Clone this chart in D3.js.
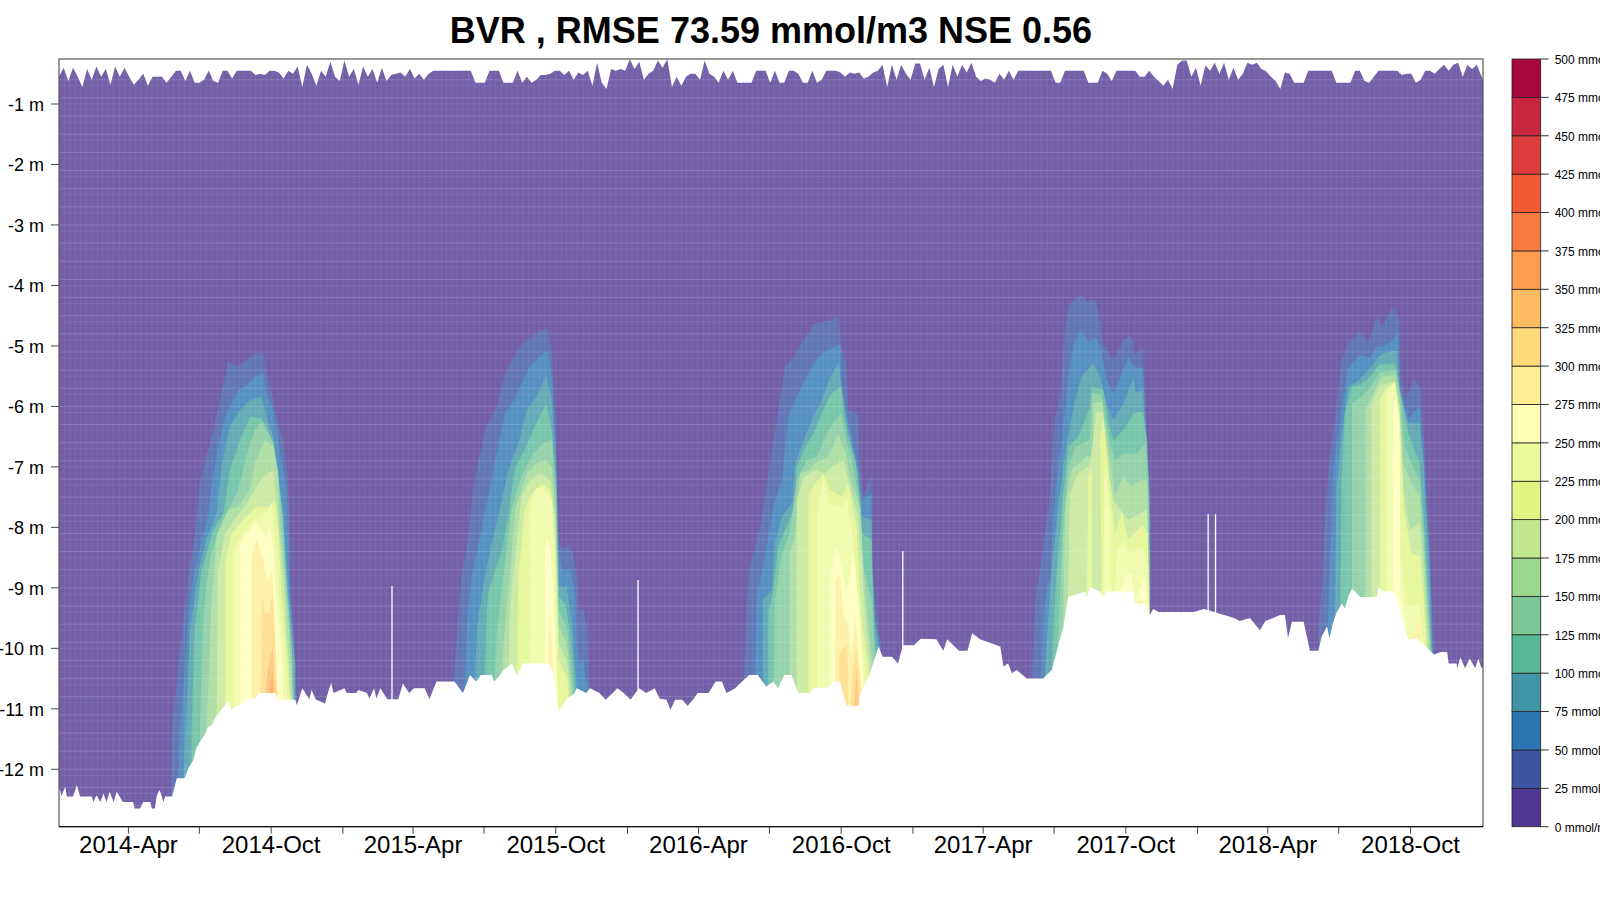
<!DOCTYPE html>
<html><head><meta charset="utf-8">
<script src="https://cdn.jsdelivr.net/npm/d3@7/dist/d3.min.js"></script>
<style>html,body{margin:0;padding:0;background:#fff;overflow:hidden}svg{display:block}text{font-family:"Liberation Sans",Arial,sans-serif}</style>
</head><body><svg id="c" width="1600" height="900"></svg>
<script>
const titleText = "BVR , RMSE 73.59 mmol/m3 NSE 0.56";
const legendLevels = d3.range(0, 525, 25);
const bandColors = ["#4F3791","#3B55A3","#2B75B2","#3F95A3","#56B897","#7BC896","#9DD891","#C0E68E","#E2F583","#EDFA9C","#FEFFB4","#FFEE94","#FFDA7B","#FEBB61","#FE9D4F","#F87A41","#F15A32","#DD3D3C","#C9273F","#A8083E"];
const depthTicks = [1,2,3,4,5,6,7,8,9,10,11,12];
const surfaceStepDays = 6;
const surfaceDepth = [.55,.40,.62,.40,.55,.72,.42,.60,.38,.55,.42,.68,.38,.55,.40,.55,.68,.60,.50,.70,.55,.55,.55,.65,.55,.45,.45,.62,.45,.65,.65,.60,.45,.62,.65,.45,.45,.58,.45,.45,.45,.45,.52,.50,.52,.45,.45,.48,.58,.45,.50,.38,.72,.35,.50,.70,.45,.55,.30,.55,.62,.28,.55,.42,.68,.38,.55,.42,.65,.40,.62,.52,.50,.48,.55,.42,.58,.50,.60,.50,.45,.45,.45,.45,.45,.45,.45,.45,.45,.65,.65,.65,.45,.45,.45,
.65,.65,.65,.45,.65,.55,.65,.60,.52,.52,.50,.45,.45,.52,.45,.60,.48,.52,.45,.70,.32,.65,.75,.42,.45,.42,.45,.26,.42,.30,.60,.50,.45,.28,.40,.26,.72,.55,.70,.55,.50,.50,.60,.28,.50,.55,.65,.45,.60,.45,.65,.65,.65,.65,.45,.45,.45,.65,.45,.65,.65,.45,.45,.50,.65,.65,.45,.65,.60,.45,.45,.45,.48,.55,.48,.50,.48,.58,.55,.48,.45,.35,.72,.35,.60,.35,.50,.60,.33,.33,.60,.40,.72,.42,.35,.72,.35,.55,.35,.48,.32,.55,.62,.58,.60,
.65,.50,.60,.45,.60,.45,.45,.45,.45,.45,.45,.45,.45,.65,.65,.45,.45,.45,.45,.45,.65,.65,.65,.45,.50,.62,.45,.45,.45,.45,.45,.55,.55,.45,.55,.62,.70,.60,.75,.35,.28,.28,.55,.40,.70,.36,.45,.32,.50,.32,.60,.40,.60,.50,.32,.35,.32,.42,.46,.55,.62,.75,.48,.50,.65,.65,.65,.45,.45,.45,.45,.45,.45,.65,.65,.65,.65,.45,.45,.62,.65,.55,.45,.45,.45,.45,.45,.52,.50,.50,.65,.60,.45,.45,.50,.42,.35,.45,.35,.32,.55,.35,.42,.35,.60];
const bottomProfile = [[0,12.35],[1,12.31],[3,12.45],[8,12.29],[10,12.45],[18,12.45],[23,12.26],[27,12.45],[42,12.45],[44,12.54],[48,12.43],[53,12.54],[57,12.40],[61,12.54],[65,12.37],[70,12.54],[74,12.37],[82,12.54],[95,12.54],[97,12.65],[104,12.65],[108,12.54],[117,12.54],[119,12.65],[123,12.65],[125,12.45],[129,12.34],[134,12.54],[136,12.45],[145,12.45],[151,12.15],[161,12.15],[166,11.98],[172,11.85],[176,11.65],[181,11.54],[187,11.43],[191,11.30],[196,11.27],[200,11.16],[206,11.05],[213,10.94],[217,10.85],[221,11.02],[226,10.96],[234,10.94],[238,10.85],[253,10.83],[256,10.74],[277,10.74],[281,10.85],[303,10.85],[305,10.94],[312,10.66],[321,10.84],[324,10.69],[329,10.84],[341,10.91],[344,10.77],[349,10.57],[352,10.74],[366,10.66],[369,10.74],[381,10.74],[384,10.69],[395,10.74],[398,10.83],[404,10.66],[407,10.83],[412,10.66],[421,10.84],[435,10.84],[441,10.58],[449,10.74],[455,10.66],[469,10.66],[475,10.84],[484,10.55],[507,10.55],[518,10.74],[524,10.55],[527,10.44],[535,10.55],[541,10.44],[555,10.44],[558,10.55],[564,10.47],[570,10.36],[581,10.25],[587,10.44],[595,10.25],[627,10.25],[633,10.36],[641,11.05],[650,10.85],[661,10.74],[664,10.66],[676,10.74],[681,10.66],[693,10.74],[701,10.85],[710,10.74],[716,10.66],[724,10.74],[733,10.85],[739,10.74],[744,10.66],[753,10.74],[764,10.66],[770,10.83],[779,10.85],[784,11.02],[790,10.85],[799,10.85],[806,10.95],[813,10.85],[819,10.74],[833,10.74],[842,10.55],[850,10.55],[856,10.74],[867,10.66],[876,10.55],[885,10.44],[896,10.44],[902,10.55],[907,10.63],[916,10.55],[922,10.66],[930,10.44],[939,10.44],[948,10.74],[962,10.74],[968,10.65],[985,10.65],[993,10.55],[1002,10.55],[1005,10.74],[1010,10.95],[1025,10.95],[1028,10.74],[1039,10.44],[1051,9.97],[1056,10.14],[1068,10.14],[1076,10.25],[1082,9.95],[1096,9.95],[1105,9.84],[1125,9.85],[1134,10.04],[1139,9.85],[1154,10.04],[1165,10.04],[1171,9.75],[1181,9.85],[1207,9.97],[1211,10.3],[1217,10.25],[1222,10.41],[1228,10.36],[1241,10.5],[1262,10.5],[1273,10.36],[1281,9.97],[1288,9.64],[1294,9.15],[1316,9.06],[1319,9.15],[1322,8.98],[1335,9.06],[1339,9.15],[1343,9.06],[1378,9.06],[1380,9.26],[1392,9.26],[1399,9.45],[1403,9.35],[1410,9.4],[1429,9.4],[1455,9.4],[1468,9.35],[1481,9.4],[1494,9.45],[1507,9.5],[1514,9.55],[1527,9.5],[1540,9.7],[1547,9.55],[1566,9.45],[1572,9.45],[1576,9.83],[1581,9.56],[1596,9.56],[1604,10.04],[1615,10.04],[1619,9.81],[1626,9.64],[1629,9.83],[1634,9.56],[1638,9.42],[1645,9.26],[1649,9.34],[1653,9.15],[1658,9.01],[1662,9.06],[1668,9.15],[1690,9.15],[1692,8.98],[1698,9.06],[1711,9.06],[1717,9.23],[1722,9.5],[1730,9.86],[1741,9.83],[1743,9.85],[1763,10.1],[1772,10.06],[1780,10.06],[1782,10.25],[1792,10.25],[1793,10.33],[1797,10.15],[1803,10.33],[1809,10.17],[1816,10.33],[1820,10.17],[1824,10.33],[1826,10.3]];
const gapDays = [427,742.5,1082,1473.6,1483];
const gapTopDepth = [8.97,8.87,8.39,7.78,7.78];

const bloom2014 = [
[25,[[143,12.6],[145,11.35],[153,10.25],[159,9.59],[167,8.70],[174,8.15],[181,7.22],[187,6.94],[198,6.39],[209,5.73],[217,5.26],[228,5.34],[241,5.23],[253,5.12],[262,5.12],[266,5.45],[273,5.78],[279,6.17],[288,6.61],[293,7.11],[296,8.04],[298,9.15],[303,10.25],[305,10.85]]],
[50,[[153,12.3],[155,11.35],[162,10.25],[166,9.42],[172,8.82],[181,8.32],[191,7.82],[198,7.11],[204,6.67],[213,6.17],[219,6.0],[230,5.73],[241,5.65],[251,5.51],[262,5.45],[266,5.78],[273,6.0],[279,6.39],[286,6.94],[292,7.38],[294,8.6],[300,9.7],[303,10.85]]],
[75,[[160,12.1],[162,11.35],[168,9.7],[179,8.7],[189,8.21],[202,7.77],[209,6.94],[219,6.33],[232,6.06],[245,5.89],[260,5.84],[266,6.17],[275,6.5],[281,7.05],[288,7.82],[294,9.04],[303,10.25],[303,10.85]]],
[100,[[170,11.35],[174,9.7],[183,8.7],[198,8.04],[211,7.77],[219,7.05],[232,6.56],[245,6.17],[260,6.2],[266,6.33],[275,6.61],[281,7.16],[287,7.82],[293,9.04],[300,10.25],[301,10.85]]],
[125,[[181,11.35],[185,9.42],[194,8.48],[206,7.99],[219,7.66],[230,7.38],[241,6.78],[251,6.39],[260,6.25],[266,6.39],[275,6.61],[281,7.16],[285,7.71],[291,8.87],[298,9.97],[300,10.85]]],
[150,[[189,11.35],[196,9.15],[202,8.15],[217,7.71],[230,7.66],[245,7.38],[251,6.94],[264,6.56],[275,6.67],[281,7.11],[283,7.88],[290,8.87],[296,9.97],[300,10.85]]],
[175,[[202,11.35],[204,8.7],[213,8.1],[228,7.82],[241,7.6],[251,7.38],[262,7.16],[275,7.05],[281,7.88],[288,8.93],[294,10.14],[298,10.85]]],
[200,[[213,11.35],[213,8.6],[221,8.1],[236,7.88],[253,7.66],[271,7.66],[277,7.55],[281,8.04],[285,9.04],[292,10.03],[296,10.85]]],
[225,[[224,11.35],[224,8.37],[236,8.1],[249,7.88],[262,7.82],[273,7.6],[277,8.15],[281,8.93],[288,9.97],[293,10.85]]],
[250,[[232,11.35],[232,8.26],[245,8.04],[253,7.9],[264,8.15],[271,7.99],[274,8.26],[278,9.09],[284,9.81],[288,10.85]]],
[275,[[247,11.35],[247,8.48],[253,8.18],[262,8.54],[267,8.9],[273,8.7],[276,9.42],[281,10.85]]],
[300,[[258,11.35],[260,9.09],[264,9.42],[270,9.42],[274,9.04],[277,9.86],[280,10.85]]],
[325,[[263,11.35],[266,10.52],[274,9.97],[278,10.85]]],
[350,[[269,11.35],[271,10.58],[274,10.41],[276,11.35]]]];

const bloom2015 = [
[25,[[506,10.58],[512,9.37],[516,8.81],[525,8.15],[531,7.33],[540,6.78],[548,6.33],[557,6.11],[563,5.95],[572,5.45],[583,5.18],[593,4.98],[604,4.87],[617,4.74],[627,4.71],[632,5.07],[636,6.06],[640,8.26],[647,8.35],[653,8.29],[659,8.4],[664,8.81],[666,9.37],[672,9.34],[677,9.64],[680,10.63]]],
[50,[[520,10.58],[523,9.64],[529,8.81],[540,8.15],[550,7.49],[561,6.78],[572,6.11],[585,5.87],[593,5.62],[604,5.34],[619,5.15],[627,5.09],[632,5.51],[637,6.61],[641,8.43],[645,8.7],[655,8.7],[662,9.09],[664,9.92],[666,10.25],[672,10.19],[679,10.74]]],
[75,[[533,10.58],[536,9.64],[546,8.81],[555,8.26],[565,7.71],[576,7.05],[589,6.61],[600,6.06],[612,5.84],[625,5.48],[632,5.9],[638,7.16],[641,8.98],[651,8.98],[657,9.48],[664,10.63]]],
[100,[[546,10.58],[548,9.64],[550,9.09],[568,8.37],[576,7.82],[585,7.0],[597,6.72],[610,6.33],[625,5.95],[632,6.39],[638,7.44],[641,9.15],[649,9.26],[655,9.7],[662,10.63]]],
[125,[[559,10.58],[561,9.8],[570,8.81],[580,7.71],[593,7.16],[608,6.78],[621,6.61],[632,6.55],[637,7.49],[641,9.37],[651,9.64],[659,10.63]]],
[150,[[568,10.58],[570,9.92],[578,8.81],[585,7.71],[600,7.11],[612,6.94],[623,6.89],[632,7.0],[637,7.82],[641,9.64],[651,9.92],[657,10.63]]],
[175,[[576,10.58],[578,9.37],[587,8.26],[593,7.49],[604,7.22],[617,7.11],[630,7.22],[636,7.82],[641,9.92],[651,10.19],[655,10.63]]],
[200,[[587,10.58],[589,8.81],[597,7.71],[606,7.44],[619,7.27],[630,7.38],[635,7.82],[641,10.19],[651,10.47],[653,10.63]]],
[225,[[604,10.58],[604,7.71],[610,7.38],[621,7.33],[632,7.55],[635,8.26],[640,11.02]]],
[250,[[623,10.58],[623,8.37],[626,8.13],[630,8.37],[634,9.09],[640,11.02]]],
[275,[[626,10.58],[629,9.37],[632,9.92],[635,10.91]]]];

const bloom2016 = [
[25,[[878,10.47],[882,9.2],[886,8.65],[897,8.1],[903,7.71],[914,6.72],[925,5.89],[931,5.34],[944,5.15],[954,4.9],[963,4.76],[969,4.63],[987,4.57],[999,4.52],[1003,4.96],[1006,5.2],[1010,5.23],[1012,6.06],[1025,6.14],[1026,6.72],[1031,7.49],[1042,7.11],[1043,8.65],[1049,9.48],[1054,9.97]]],
[50,[[892,10.47],[895,9.09],[903,8.65],[916,7.66],[927,7.22],[935,6.17],[948,5.78],[961,5.45],[974,5.18],[989,5.04],[1002,4.98],[1004,5.73],[1010,6.11],[1016,6.45],[1025,7.0],[1029,7.55],[1042,7.44],[1042,7.99],[1042,8.65],[1046,9.48],[1053,9.97]]],
[75,[[903,10.47],[903,9.2],[914,9.04],[918,8.27],[927,7.82],[940,7.6],[944,6.94],[955,6.56],[965,6.23],[978,5.9],[989,5.51],[1000,5.29],[1004,5.73],[1010,6.23],[1016,6.61],[1025,7.11],[1029,7.82],[1042,7.88],[1043,8.65],[1046,9.48],[1051,10.08]]],
[100,[[910,10.47],[910,9.37],[916,9.04],[922,8.32],[933,7.99],[944,7.66],[946,7.0],[957,6.67],[967,6.45],[982,6.0],[991,5.78],[1003,5.67],[1006,6.11],[1012,6.5],[1021,6.89],[1027,7.49],[1030,8.1],[1042,8.21],[1043,8.93],[1046,9.75],[1049,10.19]]],
[125,[[917,10.63],[918,9.2],[927,8.43],[937,8.1],[946,7.22],[959,6.89],[972,6.83],[984,6.45],[995,6.23],[1003,6.11],[1010,6.61],[1016,6.83],[1027,7.66],[1031,8.65],[1042,9.2],[1046,10.25]]],
[150,[[937,10.63],[937,8.43],[944,8.15],[950,7.11],[963,7.05],[969,6.94],[987,6.83],[999,6.45],[1010,6.83],[1014,7.16],[1027,7.66],[1034,9.09],[1043,10.25]]],
[175,[[946,10.74],[946,7.55],[955,7.16],[969,7.05],[982,7.11],[991,7.0],[1006,6.89],[1012,7.22],[1025,7.82],[1034,9.48],[1040,10.3]]],
[200,[[961,10.74],[961,7.44],[972,7.24],[980,7.11],[989,7.38],[1004,7.49],[1012,7.27],[1023,8.04],[1029,9.48],[1038,10.41]]],
[225,[[972,10.74],[972,7.77],[980,7.16],[987,7.6],[1004,7.66],[1010,7.49],[1017,8.1],[1025,9.2],[1034,10.47]]],
[250,[[989,10.74],[989,8.76],[997,8.32],[1004,8.65],[1010,9.09],[1019,8.43],[1025,9.2],[1031,10.47]]],
[275,[[995,10.74],[996,8.87],[1001,8.76],[1006,9.48],[1012,9.59],[1019,10.47]]],
[275,[[1012,10.85],[1021,9.5],[1031,10.85]]],
[300,[[1000,10.47],[1001,10.08],[1010,9.92],[1012,10.47]]],
[300,[[1015,10.85],[1022,9.95],[1029,10.85]]],
[325,[[1019,11.0],[1023,10.3],[1026,11.0]]]];

const bloom2017 = [
[25,[[1247,10.52],[1251,9.31],[1260,8.48],[1269,7.66],[1277,6.22],[1284,5.78],[1290,4.68],[1296,4.3],[1311,4.16],[1318,4.27],[1328,4.24],[1333,4.46],[1339,5.0],[1343,5.04],[1352,5.23],[1363,4.96],[1371,4.84],[1376,4.87],[1380,5.15],[1390,5.04],[1393,6.11],[1397,7.22],[1399,9.42]]],
[50,[[1260,10.52],[1262,9.42],[1271,8.76],[1277,7.49],[1286,6.5],[1294,5.56],[1301,4.96],[1311,4.74],[1320,4.93],[1331,4.87],[1337,5.1],[1343,5.56],[1352,5.78],[1363,5.45],[1371,5.18],[1378,5.34],[1390,5.37],[1393,6.11],[1398,7.22],[1399,9.42]]],
[75,[[1264,10.52],[1271,8.98],[1281,7.66],[1290,6.78],[1301,6.0],[1311,5.51],[1326,5.29],[1335,5.51],[1343,5.95],[1352,6.22],[1365,5.95],[1378,5.51],[1380,5.78],[1390,5.73],[1393,6.44],[1398,7.33],[1399,9.42]]],
[100,[[1273,10.47],[1277,9.2],[1286,7.66],[1294,6.67],[1307,6.5],[1322,6.0],[1324,5.67],[1339,5.73],[1346,6.28],[1352,6.55],[1365,6.39],[1378,6.11],[1390,6.09],[1395,6.55],[1398,7.44],[1399,9.42]]],
[125,[[1281,9.97],[1286,8.32],[1294,7.0],[1303,6.67],[1322,6.55],[1325,5.78],[1337,5.81],[1346,6.5],[1354,6.89],[1365,6.78],[1382,6.78],[1393,6.61],[1397,7.49],[1399,9.42]]],
[150,[[1288,9.42],[1290,7.66],[1298,7.05],[1318,6.83],[1326,6.83],[1326,5.95],[1337,5.92],[1346,6.72],[1354,7.44],[1365,7.16],[1375,7.33],[1386,7.22],[1395,7.22],[1398,9.42]]],
[175,[[1294,9.15],[1296,7.44],[1307,7.1],[1322,6.97],[1330,6.1],[1339,6.1],[1346,7.1],[1352,7.55],[1363,7.74],[1371,7.88],[1395,7.71],[1398,9.42]]],
[200,[[1318,9.15],[1320,7.16],[1324,7.02],[1325,9.15]]],
[200,[[1337,9.15],[1335,6.55],[1339,6.2],[1343,6.67],[1350,7.66],[1354,8.1],[1363,7.74],[1371,8.2],[1390,7.96],[1396,8.1],[1398,9.42]]],
[225,[[1339,9.15],[1341,6.94],[1348,7.77],[1350,9.15]]],
[225,[[1354,9.15],[1356,8.43],[1365,8.2],[1373,8.43],[1390,8.32],[1396,8.65],[1397,9.42]]],
[250,[[1360,9.15],[1367,8.81],[1375,8.76],[1380,9.26]]],
[250,[[1382,9.15],[1393,8.81],[1397,9.42]]],
[275,[[1380,9.26],[1386,9.2],[1393,9.26],[1395,9.42]]]];

const bloom2018 = [
[25,[[1615,9.81],[1619,8.93],[1623,8.04],[1628,6.99],[1634,6.44],[1638,5.95],[1645,5.23],[1653,4.96],[1668,4.76],[1679,4.93],[1690,4.52],[1696,4.68],[1711,4.35],[1719,4.57],[1720,5.56],[1727,5.87],[1737,5.56],[1746,5.69],[1752,6.87],[1758,8.39],[1763,10.1]]],
[50,[[1626,9.83],[1632,7.93],[1634,6.94],[1640,6.5],[1653,5.37],[1668,5.15],[1681,5.2],[1690,5.01],[1698,5.01],[1711,4.9],[1717,4.76],[1720,5.73],[1730,6.2],[1745,6.0],[1750,6.9],[1757,8.4],[1762,10.1]]],
[75,[[1636,9.37],[1638,7.38],[1643,6.67],[1653,5.67],[1668,5.56],[1679,5.4],[1692,5.18],[1698,5.12],[1715,5.07],[1720,5.78],[1730,6.28],[1745,6.28],[1750,7.0],[1756,8.4],[1761,10.1]]],
[100,[[1643,9.31],[1645,7.16],[1649,6.11],[1658,5.67],[1668,5.65],[1679,5.54],[1692,5.32],[1713,5.29],[1720,5.78],[1730,6.44],[1745,6.94],[1753,8.4],[1760,10.1]]],
[125,[[1658,9.03],[1658,5.95],[1670,5.84],[1679,5.73],[1694,5.43],[1715,5.4],[1720,5.89],[1726,6.67],[1734,6.94],[1745,7.22],[1752,8.5],[1759,10.1]]],
[150,[[1675,9.15],[1675,6.06],[1683,5.84],[1696,5.51],[1713,5.48],[1719,5.95],[1724,6.94],[1734,7.27],[1745,7.49],[1751,8.6],[1758,10.1]]],
[175,[[1683,9.15],[1683,5.95],[1694,5.65],[1713,5.59],[1719,6.0],[1724,7.33],[1732,8.04],[1745,7.93],[1750,8.8],[1756,10.1]]],
[200,[[1694,9.03],[1694,5.89],[1702,5.7],[1713,5.59],[1719,6.11],[1724,7.66],[1734,8.43],[1745,8.48],[1750,9.2],[1754,10.1]]],
[225,[[1702,9.06],[1702,5.73],[1713,5.62],[1719,6.28],[1720,8.48],[1728,9.31],[1745,9.26],[1750,10.1]]],
[250,[[1711,9.06],[1711,5.95],[1715,5.81],[1719,6.39],[1720,9.03],[1730,9.86],[1745,10.1]]],
[275,[[1734,9.86],[1745,9.48],[1747,10.1]]]];

const blooms = [bloom2014, bloom2015, bloom2016, bloom2017, bloom2018];

// ---- drawing ----
const svg = d3.select("#c");
const L=59,R=1483,T=59,B=826.7;
const day0 = new Date(2014,0,2);
const toDate = d => d3.timeHour.offset(day0, d*24);
const x = d3.scaleTime().domain([day0, new Date(2019,0,2)]).range([L,R]);
const y = d3.scaleLinear().domain([1,12]).range([104,769.3]);
const xd = d => x(toDate(d));
const line = d3.line().x(p=>xd(p[0])).y(p=>y(p[1]));

const outline = surfaceDepth.map((v,i)=>[i*surfaceStepDays,v]);
outline[outline.length-1][0]=1826;
const shape = outline.concat(bottomProfile.slice().reverse());
const defs = svg.append("defs");
defs.append("clipPath").attr("id","wet").append("path").attr("d",line(shape)+"Z");

const g = svg.append("g").attr("clip-path","url(#wet)").attr("opacity",0.8);
g.append("rect").attr("x",L).attr("y",T).attr("width",R-L).attr("height",B-T).attr("fill",bandColors[0]);
const polys=[];
blooms.forEach(b=>b.forEach(([lev,pts])=>polys.push([lev,pts])));
polys.sort((a,b)=>a[0]-b[0]);
g.selectAll("path.band").data(polys).join("path").attr("class","band")
 .attr("fill",d=>bandColors[d[0]/25])
 .attr("d",d=>{const p=d[1];return line([[p[0][0],13]].concat(p,[[p[p.length-1][0],13]]))+"Z";});

// faint seams of the contour grid
const seams = svg.append("g").attr("clip-path","url(#wet)");
seams.selectAll("line.h").data(d3.range(0,130)).join("line").attr("class","h")
 .attr("x1",L).attr("x2",R).attr("y1",i=>y(0.3+i*0.1)).attr("y2",i=>y(0.3+i*0.1))
 .attr("stroke","#fff").attr("stroke-width",1).attr("stroke-opacity",i=>i%3==0?0.16:(i%3==1?0.08:0.03));
seams.selectAll("line.v").data(d3.range(0,262)).join("line").attr("class","v")
 .attr("x1",i=>xd(i*7)).attr("x2",i=>xd(i*7)).attr("y1",T).attr("y2",B)
 .attr("stroke","#fff").attr("stroke-width",1).attr("stroke-opacity",0.08);

// missing-data slits
const gapG = svg.append("g");
gapDays.forEach((d,i)=>{
 gapG.append("line").attr("x1",xd(d)).attr("x2",xd(d)).attr("y1",y(gapTopDepth[i])).attr("y2",y(11))
  .attr("stroke","#fff").attr("stroke-width",1.3);
});

// frame
svg.append("rect").attr("x",L).attr("y",T).attr("width",R-L).attr("height",B-T).attr("fill","none").attr("stroke","#555").attr("stroke-width",1.2);

// x axis
const monthTicks = d3.timeMonth.every(3).range(new Date(2014,3,1), new Date(2019,0,1));
const xAxis = d3.axisBottom(x).offset(0).tickValues(monthTicks).tickSize(7).tickSizeOuter(0)
 .tickFormat(d=>d.getMonth()==3||d.getMonth()==9?d3.timeFormat("%Y-%b")(d):"");
const ax = svg.append("g").attr("transform",`translate(0,${B})`).call(xAxis);
ax.selectAll("text").attr("y",26).attr("dy",0).attr("font-size",24).attr("fill","#000").style("font-family",'"Liberation Sans"');
ax.select(".domain").attr("stroke","#000");
ax.selectAll("line").attr("stroke","#444");

// y axis
const yAxis = d3.axisLeft(y).offset(0).tickValues(depthTicks).tickSize(8).tickPadding(7).tickFormat(d=>"-"+d+" m");
const ay = svg.append("g").attr("transform",`translate(${L},0)`).call(yAxis);
ay.select(".domain").remove();
ay.selectAll("text").attr("font-size",18).attr("dy","0.38em").attr("fill","#000").style("font-family",'"Liberation Sans"');
ay.selectAll("line").attr("stroke","#444");

// title
svg.append("text").attr("x",771).attr("y",43).attr("text-anchor","middle").attr("font-size",36).attr("font-weight","bold").attr("fill","#000").text(titleText);

// colour key
const c = d3.scaleLinear().domain([0,500]).range([B,T]);
const cx0=1512,cx1=1540.7;
svg.append("g").selectAll("rect").data(bandColors).join("rect")
 .attr("x",cx0).attr("width",cx1-cx0).attr("y",(d,i)=>c((i+1)*25)).attr("height",(d,i)=>c(i*25)-c((i+1)*25))
 .attr("fill",d=>d).attr("stroke","#222").attr("stroke-width",0.8);
const cAxis = d3.axisRight(c).offset(0).tickValues(legendLevels).tickSize(8).tickPadding(6).tickFormat(d=>d+" mmol/m3");
const ac = svg.append("g").attr("transform",`translate(${cx1},0)`).call(cAxis);
ac.select(".domain").remove();
ac.selectAll("text").attr("font-size",12).attr("dy","0.4em").attr("fill","#000").style("font-family",'"Liberation Sans"');
ac.selectAll("line").attr("stroke","#333");
</script></body></html>
